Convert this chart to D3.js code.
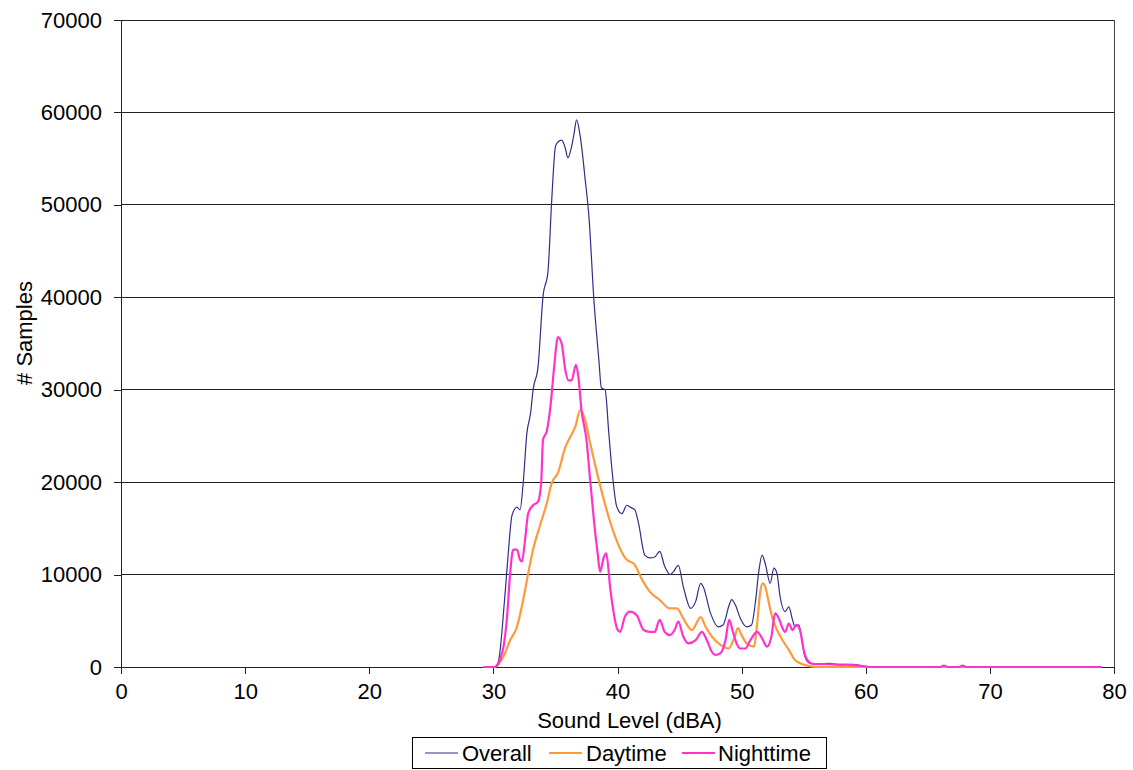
<!DOCTYPE html>
<html>
<head>
<meta charset="utf-8">
<script src="https://cdn.jsdelivr.net/npm/d3@7"></script>
<style>
  body { margin: 0; background: #fff; }
  text { font-family: "Liberation Sans", Arial, sans-serif; }
</style>
</head>
<body>
<div id="chart"></div>
<script>
// sound level (dBA) / # samples
var overallX = [29.2, 30.1, 30.4, 30.9, 31.2, 31.5, 31.9, 32.15, 32.4, 32.7, 33.0, 33.2, 33.6, 34.0, 34.4, 34.7, 35.0, 35.2, 35.5, 35.8, 36.0, 36.3, 36.5, 36.7, 37.0, 37.4, 37.7, 38.1, 38.5, 38.7, 39.0, 39.3, 39.5, 39.95, 40.35, 40.75, 41.0, 41.4, 41.7, 42.2, 42.6, 43.0, 43.4, 43.8, 44.25, 44.5, 44.9, 45.3, 45.9, 46.3, 46.7, 46.9, 47.5, 48.1, 48.5, 49.0, 49.2, 49.5, 49.9, 50.4, 50.8, 51.1, 51.4, 51.65, 51.9, 52.3, 52.6, 52.85, 53.1, 53.5, 53.8, 54.1, 54.3, 54.6, 55.1, 55.5, 56.3, 57.1, 57.9, 59.0, 59.8, 60.5, 79.0]
var overallY = [0, 0, 570, 7250, 12300, 16400, 17300, 17000, 19900, 25300, 27500, 30000, 32500, 40100, 42800, 50500, 56300, 56800, 57000, 56100, 55100, 56300, 57700, 59200, 57400, 52700, 48700, 39700, 33200, 30200, 30000, 25300, 22100, 17300, 16600, 17500, 17300, 17000, 15500, 12100, 11800, 11900, 12500, 10900, 10000, 10300, 11000, 8700, 6350, 7100, 9050, 8700, 5800, 4350, 4550, 6700, 7300, 6700, 5250, 4350, 4550, 6900, 10500, 12100, 11200, 9050, 10700, 10100, 7600, 6000, 6500, 5100, 4350, 4550, 1100, 400, 320, 400, 220, 290, 100, 0, 0]

var dayX = [29.2, 30.1, 30.8, 31.35, 31.9, 32.4, 32.8, 33.2, 33.8, 34.3, 34.7, 35.2, 35.8, 36.2, 36.6, 37.0, 37.4, 37.8, 38.3, 38.9, 39.7, 40.75, 41.0, 41.3, 42.0, 42.6, 43.4, 44.2, 44.8, 45.3, 46.0, 46.7, 47.1, 47.6, 48.3, 48.95, 49.4, 49.7, 50.0, 50.4, 51.0, 51.25, 51.5, 51.7, 51.9, 52.2, 52.45, 52.85, 53.3, 53.8, 54.3, 54.7, 55.3, 56.0, 79.0]
var dayY = [0, 0, 1100, 2900, 4350, 7250, 10100, 12700, 15500, 17700, 19900, 21000, 23800, 24900, 26000, 27800, 26700, 24200, 21300, 18100, 14500, 11600, 11400, 11200, 9400, 8150, 7250, 6350, 6350, 5250, 4000, 5400, 4350, 3300, 2400, 2000, 3100, 4200, 3450, 2550, 2200, 4700, 8150, 9050, 8700, 6900, 5450, 4000, 2900, 1850, 750, 400, 150, 0, 0]

var nightX = [29.2, 30.1, 30.7, 31.1, 31.35, 31.6, 31.9, 32.15, 32.3, 32.55, 32.8, 33.2, 33.6, 33.85, 34.0, 34.3, 34.6, 34.9, 35.2, 35.5, 35.8, 36.05, 36.3, 36.65, 36.85, 37.1, 37.5, 37.8, 38.1, 38.4, 38.6, 38.9, 39.1, 39.4, 39.7, 39.95, 40.2, 40.6, 41.0, 41.55, 42.1, 42.6, 43.0, 43.4, 43.8, 44.2, 44.6, 44.9, 45.3, 45.7, 46.3, 46.8, 47.2, 47.6, 47.9, 48.3, 48.7, 49.0, 49.3, 49.6, 49.9, 50.3, 50.7, 51.25, 51.65, 52.05, 52.4, 52.7, 53.0, 53.25, 53.5, 53.8, 54.1, 54.4, 54.7, 55.0, 55.3, 55.8, 57.0, 58.5, 59.8, 60.5, 66.0, 66.3, 66.6, 67.5, 67.8, 68.1, 79.0]
var nightY = [0, 0, 1500, 5400, 10100, 12700, 12700, 11600, 11400, 13700, 16600, 17500, 17900, 19900, 24600, 25500, 28200, 32500, 35700, 35000, 32100, 31000, 31000, 32700, 31400, 27800, 24600, 20200, 15900, 12300, 10300, 11900, 12300, 8700, 5800, 4200, 3800, 5450, 6000, 5600, 4000, 3800, 3800, 5100, 3800, 3450, 4000, 4900, 3300, 2550, 2900, 3800, 2900, 1650, 1300, 1500, 2900, 5100, 3800, 2550, 2000, 2000, 2900, 3800, 3100, 2200, 3300, 5800, 5250, 4350, 3800, 4700, 4000, 4550, 4000, 1850, 750, 320, 300, 250, 100, 0, 0, 150, 0, 0, 150, 0, 0]

var xTicks = [0, 10, 20, 30, 40, 50, 60, 70, 80]
var yTicks = [0, 10000, 20000, 30000, 40000, 50000, 60000, 70000]

var seriesNames = ["Overall", "Daytime", "Nighttime"]
var seriesColors = ["#2e2e8c", "#ff9a3c", "#ff33cc"]
var seriesWidths = [1.2, 2.2, 2.2]

var width = 1133, height = 770
var margin = { top: 20, right: 19, bottom: 103, left: 121 }
var pw = width - margin.left - margin.right
var ph = height - margin.top - margin.bottom

var svg = d3.select("#chart").append("svg")
    .attr("width", width)
    .attr("height", height)

var g = svg.append("g")
    .attr("transform", "translate(" + margin.left + "," + margin.top + ")")

var x = d3.scaleLinear().domain([0, 80]).range([0, pw])
var y = d3.scaleLinear().domain([0, 70000]).range([ph, 0])

// gridlines
g.selectAll(".grid")
    .data(yTicks.filter(function (d) { return d > 0 }))
    .enter().append("line")
    .attr("class", "grid")
    .attr("x1", 0).attr("x2", pw)
    .attr("y1", function (d) { return y(d) })
    .attr("y2", function (d) { return y(d) })
    .attr("stroke", "#222")
    .attr("stroke-width", 1)
    .attr("shape-rendering", "crispEdges")

// right edge of plot area
g.append("line")
    .attr("x1", pw).attr("x2", pw)
    .attr("y1", 0).attr("y2", ph)
    .attr("stroke", "#444")
    .attr("shape-rendering", "crispEdges")

// y axis
var yAxis = g.append("g")
    .call(d3.axisLeft(y).tickValues(yTicks).tickSize(7).tickPadding(12).tickFormat(d3.format("d")))
yAxis.select(".domain").attr("stroke", "#222").attr("shape-rendering", "crispEdges")
yAxis.selectAll(".tick line").attr("stroke", "#222").attr("shape-rendering", "crispEdges")
yAxis.selectAll(".tick text").attr("font-size", 22).attr("fill", "#000")
    .attr("font-family", "Liberation Sans, Arial, sans-serif")

// x axis
var xAxis = g.append("g")
    .attr("transform", "translate(0," + ph + ")")
    .call(d3.axisBottom(x).tickValues(xTicks).tickSize(7).tickPadding(9))
xAxis.select(".domain").attr("stroke", "#222").attr("shape-rendering", "crispEdges")
xAxis.selectAll(".tick line").attr("stroke", "#222").attr("shape-rendering", "crispEdges")
xAxis.selectAll(".tick text").attr("font-size", 22).attr("fill", "#000")
    .attr("font-family", "Liberation Sans, Arial, sans-serif")

// axis titles
g.append("text")
    .attr("x", pw / 2 + 12)
    .attr("y", ph + 61)
    .attr("text-anchor", "middle")
    .attr("font-size", 22)
    .text("Sound Level (dBA)")

svg.append("text")
    .attr("transform", "translate(32," + 333 + ") rotate(-90)")
    .attr("text-anchor", "middle")
    .attr("font-size", 22)
    .text("# Samples")

// lines
var allX = [overallX, dayX, nightX]
var allY = [overallY, dayY, nightY]

var line = d3.line()
    .curve(d3.curveMonotoneX)
    .x(function (d) { return x(d[0]) })
    .y(function (d) { return y(d[1]) })

for (var i = 0; i < 3; i++) {
    var pts = allX[i].map(function (v, j) { return [v, allY[i][j]] })
    g.append("path")
        .datum(pts)
        .attr("fill", "none")
        .attr("stroke", seriesColors[i])
        .attr("stroke-width", seriesWidths[i])
        .attr("stroke-linejoin", "round")
        .attr("d", line)
}

// legend
var legend = svg.append("g").attr("transform", "translate(412,737)")
legend.append("rect")
    .attr("width", 414).attr("height", 31)
    .attr("fill", "#fff").attr("stroke", "#000").attr("stroke-width", 1)
    .attr("shape-rendering", "crispEdges")

var legendX = [13, 137, 270]
var legendTextX = [50, 174, 306]
seriesNames.forEach(function (name, i) {
    legend.append("line")
        .attr("x1", legendX[i]).attr("x2", legendX[i] + 33)
        .attr("y1", 16).attr("y2", 16)
        .attr("stroke", seriesColors[i])
        .attr("stroke-width", seriesWidths[i])
    legend.append("text")
        .attr("x", legendTextX[i])
        .attr("y", 24)
        .attr("font-size", 22)
        .text(name)
})
</script>
</body>
</html>
